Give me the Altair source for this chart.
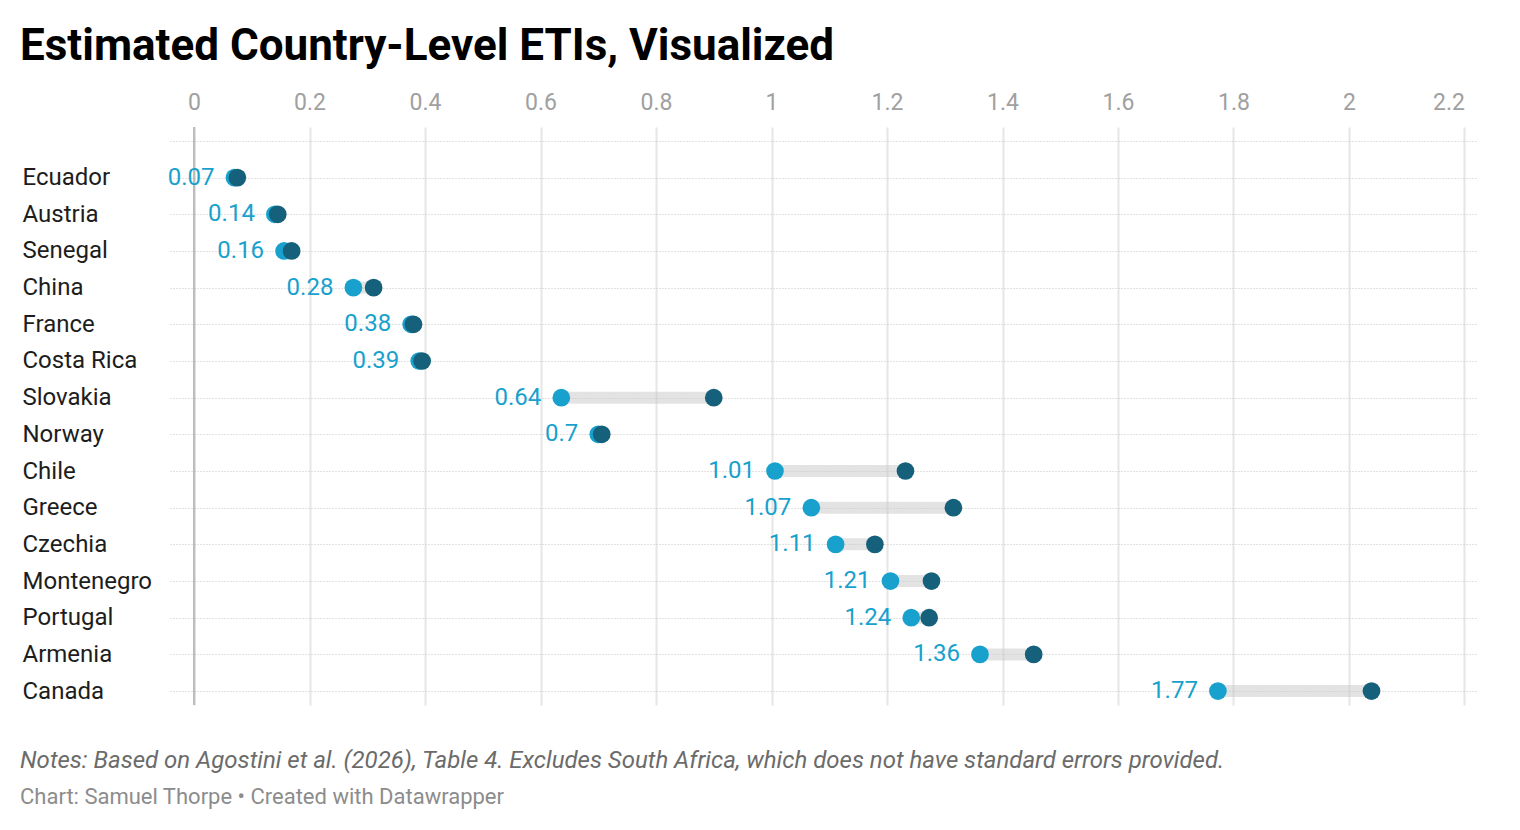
import altair as alt
import pandas as pd

countries = ["Ecuador", "Austria", "Senegal", "China", "France", "Costa Rica",
             "Slovakia", "Norway", "Chile", "Greece", "Czechia", "Montenegro",
             "Portugal", "Armenia", "Canada"]
low = [0.07, 0.14, 0.156, 0.276, 0.376, 0.39, 0.636, 0.70, 1.006, 1.069,
       1.111, 1.206, 1.242, 1.361, 1.773]
high = [0.075, 0.145, 0.169, 0.311, 0.38, 0.395, 0.90, 0.706, 1.232, 1.315,
        1.179, 1.277, 1.273, 1.454, 2.039]
x_ticks = [0, 0.2, 0.4, 0.6, 0.8, 1, 1.2, 1.4, 1.6, 1.8, 2, 2.2]

title_text = "Estimated Country-Level ETIs, Visualized"
notes_text = ("Notes: Based on Agostini et al. (2026), Table 4. Excludes South Africa, "
              "which does not have standard errors provided.")
credit_text = "Chart: Samuel Thorpe \u2022 Created with Datawrapper"

LIGHT = "#18a1cd"
DARK = "#15607a"
W, H = 1308, 578

df = pd.DataFrame({"country": countries, "low": low, "high": high})

y_domain = [" "] + countries

xs = alt.Scale(domain=[-0.0416, 2.2234], nice=False, zero=False)
ys = alt.Scale(type="point", domain=y_domain, padding=0.38)

x_axis = alt.Axis(orient="top", values=x_ticks, format=".1~f", title=None,
                  domain=False, ticks=False, labelPadding=13, labelFontSize=23,
                  labelColor="#a0a0a0", grid=True, gridColor="#e6e6e6",
                  gridWidth=2, labelFont="Roboto", labelFlush=18)
y_axis = alt.Axis(orient="left", title=None, domain=False, ticks=False,
                  tickSize=0, labelAlign="left", labelPadding=148,
                  labelFontSize=24, labelColor="#1d1d1d", labelFont="Roboto",
                  grid=True, gridColor="#c4c4c4", gridDash=[1, 2], gridWidth=1)

base = alt.Chart(df)

bars = base.mark_rule(strokeWidth=12, color="#c8c8c8", opacity=0.5,
                      strokeCap="butt").encode(
    x=alt.X("low:Q", scale=xs, axis=x_axis),
    x2="high:Q",
    y=alt.Y("country:N", scale=ys, axis=y_axis, sort=y_domain),
)

zero = base.mark_rule(color="#bdbdbd", strokeWidth=2).encode(
    x=alt.datum(0),
    y=alt.value(0),
    y2=alt.value(H),
)

light_dots = base.mark_circle(size=314, opacity=1, color=LIGHT).encode(
    x="low:Q", y=alt.Y("country:N", sort=y_domain)
)
dark_dots = base.mark_circle(size=314, opacity=1, color=DARK).encode(
    x="high:Q", y=alt.Y("country:N", sort=y_domain)
)
labels = base.mark_text(align="right", baseline="middle", dx=-20, fontSize=24,
                        color=LIGHT, font="Roboto").encode(
    x="low:Q", y=alt.Y("country:N", sort=y_domain),
    text=alt.Text("low:Q", format=".2~f"),
)

title = alt.Chart(pd.DataFrame({"t": [title_text]})).mark_text(
    align="left", baseline="alphabetic", fontSize=44, fontWeight="bold",
    color="#000000", font="Roboto").encode(
    x=alt.value(-150), y=alt.value(-67), text="t:N")
notes = alt.Chart(pd.DataFrame({"t": [notes_text]})).mark_text(
    align="left", baseline="alphabetic", fontSize=24, fontStyle="italic",
    color="#6b6b6b", font="Roboto").encode(
    x=alt.value(-150), y=alt.value(641), text="t:N")
credit = alt.Chart(pd.DataFrame({"t": [credit_text]})).mark_text(
    align="left", baseline="alphabetic", fontSize=22,
    color="#8c8c8c", font="Roboto").encode(
    x=alt.value(-150), y=alt.value(677), text="t:N")

chart = alt.layer(zero, bars, light_dots, dark_dots, labels, title, notes, credit).properties(
    width=W, height=H,
    autosize=alt.AutoSizeParams(type="none"),
    padding={"left": 162, "top": 119, "right": 30, "bottom": 110},
).configure(font="Roboto").configure_view(stroke=None, strokeWidth=0)

chart.save("out.html", embed_options={"renderer": "svg", "actions": False})
